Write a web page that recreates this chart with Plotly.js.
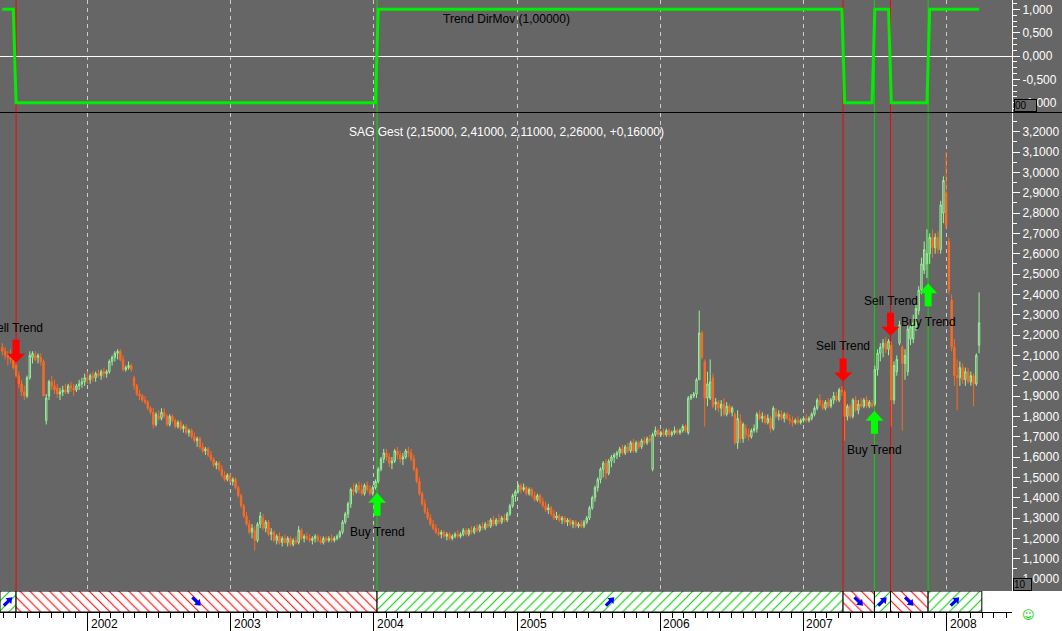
<!DOCTYPE html>
<html><head><meta charset="utf-8">
<script src="https://cdn.plot.ly/plotly-3.0.1.min.js"></script>
<style>html,body{margin:0;padding:0;background:#fff;}#chart{width:1062px;height:631px;}</style>
</head><body><div id="chart"></div>
<script>
// ---- data (weekly candles, first week 2001-05-28) ----
const firstWeek = '2001-05-28';
const openP = [
2.14,2.12,2.10,2.09,2.08,2.05,2.00,1.96,1.92,1.90,
1.99,2.09,2.10,2.09,2.09,2.07,1.78,1.90,1.97,1.95,
1.94,1.91,1.92,1.93,1.92,1.95,1.94,1.93,1.95,1.96,
1.97,1.99,1.98,2.00,1.99,2.01,2.00,2.02,2.01,2.02,
2.07,2.09,2.11,2.12,2.08,2.03,2.04,2.05,1.99,1.95,
1.91,1.90,1.88,1.87,1.84,1.82,1.76,1.80,1.79,1.82,
1.80,1.76,1.80,1.78,1.75,1.77,1.74,1.75,1.72,1.73,
1.70,1.68,1.69,1.65,1.63,1.64,1.61,1.59,1.56,1.57,
1.54,1.51,1.49,1.51,1.48,1.49,1.45,1.41,1.36,1.31,
1.27,1.23,1.24,1.19,1.27,1.30,1.25,1.28,1.22,1.23,
1.19,1.21,1.18,1.20,1.18,1.20,1.17,1.19,1.18,1.24,
1.20,1.21,1.20,1.19,1.20,1.21,1.19,1.18,1.20,1.19,
1.20,1.19,1.20,1.21,1.23,1.28,1.32,1.37,1.44,1.43,
1.46,1.44,1.42,1.46,1.44,1.42,1.45,1.48,1.54,1.59,
1.62,1.60,1.57,1.58,1.63,1.61,1.59,1.60,1.63,1.62,
1.59,1.54,1.48,1.42,1.37,1.33,1.30,1.27,1.25,1.23,
1.22,1.23,1.21,1.22,1.20,1.21,1.22,1.21,1.22,1.24,
1.22,1.24,1.23,1.25,1.24,1.26,1.25,1.27,1.26,1.29,
1.27,1.29,1.28,1.30,1.29,1.32,1.36,1.41,1.43,1.46,
1.44,1.45,1.42,1.44,1.41,1.39,1.41,1.38,1.36,1.34,
1.35,1.32,1.30,1.31,1.29,1.30,1.28,1.29,1.27,1.28,
1.26,1.27,1.26,1.28,1.30,1.35,1.40,1.45,1.49,1.54,
1.57,1.52,1.58,1.60,1.61,1.62,1.64,1.62,1.65,1.63,
1.67,1.63,1.67,1.65,1.68,1.67,1.69,1.54,1.71,1.73,
1.71,1.72,1.71,1.73,1.71,1.72,1.73,1.72,1.73,1.75,
1.72,1.89,1.90,1.91,1.98,2.21,2.07,1.89,1.89,1.99,
1.86,1.87,1.84,1.86,1.81,1.85,1.82,1.81,1.67,1.78,
1.69,1.74,1.71,1.70,1.73,1.74,1.81,1.79,1.80,1.77,
1.79,1.74,1.82,1.80,1.81,1.79,1.81,1.79,1.78,1.77,
1.78,1.77,1.78,1.79,1.78,1.79,1.81,1.84,1.88,1.86,
1.84,1.87,1.85,1.88,1.90,1.88,1.93,1.92,1.80,1.85,
1.80,1.88,1.83,1.86,1.85,1.88,1.85,1.86,1.86,2.03,
2.11,2.14,2.16,2.13,2.15,1.88,2.02,2.16,2.14,2.06,
2.02,2.18,2.18,2.24,2.32,2.42,2.52,2.55,2.60,2.68,
2.63,2.68,2.62,2.80,2.90,2.66,2.37,2.14,2.00,1.99,
2.04,1.98,2.02,1.97,2.00,1.96,2.15];
const highP = [
2.16,2.14,2.12,2.13,2.10,2.07,2.02,1.98,1.95,2.00,
2.12,2.12,2.12,2.11,2.11,2.08,1.91,1.98,2.00,1.98,
1.96,1.94,1.95,1.96,1.96,1.97,1.96,1.96,1.98,1.99,
2.01,2.02,2.01,2.02,2.02,2.03,2.03,2.04,2.03,2.08,
2.10,2.12,2.13,2.13,2.10,2.05,2.07,2.06,2.00,1.96,
1.93,1.91,1.90,1.88,1.85,1.84,1.82,1.83,1.84,1.84,
1.81,1.81,1.81,1.79,1.78,1.78,1.76,1.76,1.74,1.74,
1.72,1.70,1.70,1.67,1.65,1.65,1.63,1.60,1.58,1.58,
1.56,1.53,1.52,1.52,1.50,1.50,1.46,1.42,1.37,1.33,
1.29,1.27,1.26,1.28,1.33,1.32,1.29,1.29,1.25,1.24,
1.22,1.23,1.21,1.22,1.21,1.21,1.20,1.21,1.26,1.25,
1.22,1.23,1.22,1.21,1.22,1.22,1.21,1.21,1.21,1.21,
1.22,1.21,1.22,1.24,1.29,1.33,1.38,1.45,1.47,1.47,
1.48,1.47,1.47,1.48,1.46,1.46,1.49,1.55,1.60,1.64,
1.64,1.62,1.60,1.64,1.65,1.63,1.62,1.64,1.65,1.64,
1.61,1.55,1.50,1.43,1.39,1.35,1.32,1.29,1.27,1.25,
1.24,1.24,1.23,1.23,1.22,1.23,1.24,1.23,1.25,1.25,
1.25,1.26,1.26,1.27,1.27,1.28,1.28,1.29,1.30,1.31,
1.30,1.32,1.31,1.32,1.33,1.37,1.42,1.44,1.47,1.47,
1.47,1.46,1.45,1.45,1.43,1.42,1.42,1.40,1.38,1.37,
1.36,1.34,1.33,1.32,1.31,1.31,1.30,1.30,1.29,1.29,
1.28,1.29,1.29,1.31,1.36,1.41,1.46,1.50,1.55,1.58,
1.59,1.59,1.61,1.62,1.63,1.65,1.66,1.66,1.67,1.68,
1.69,1.68,1.68,1.69,1.70,1.70,1.71,1.72,1.75,1.74,
1.73,1.74,1.74,1.74,1.73,1.75,1.74,1.74,1.76,1.76,
1.90,1.91,1.92,1.99,2.32,2.22,2.08,2.02,2.08,2.01,
1.89,1.88,1.88,1.89,1.87,1.86,1.85,1.82,1.83,1.81,
1.77,1.76,1.74,1.74,1.76,1.82,1.83,1.82,1.81,1.81,
1.80,1.85,1.84,1.83,1.83,1.82,1.82,1.81,1.80,1.79,
1.80,1.79,1.80,1.81,1.80,1.82,1.85,1.89,1.91,1.88,
1.88,1.89,1.89,1.92,1.92,1.94,1.95,1.93,1.86,1.86,
1.89,1.90,1.88,1.89,1.89,1.90,1.88,1.88,2.05,2.13,
2.16,2.18,2.19,2.18,2.17,2.07,2.10,2.27,2.15,2.13,
2.25,2.26,2.30,2.35,2.44,2.58,2.66,2.72,2.70,2.72,
2.70,2.71,2.86,2.98,3.10,2.68,2.40,2.18,2.08,2.07,
2.06,2.04,2.04,2.02,2.01,2.11,2.41];
const lowP = [
2.10,2.08,2.05,2.06,2.03,1.99,1.94,1.90,1.88,1.89,
1.98,2.06,2.07,2.06,2.05,1.90,1.76,1.88,1.93,1.91,
1.89,1.88,1.90,1.91,1.91,1.92,1.90,1.92,1.93,1.94,
1.95,1.96,1.96,1.97,1.97,1.99,1.98,1.99,1.99,2.01,
2.05,2.07,2.08,2.07,2.02,2.02,2.03,2.02,1.93,1.90,
1.88,1.87,1.86,1.83,1.81,1.74,1.75,1.78,1.78,1.79,
1.75,1.75,1.77,1.74,1.74,1.73,1.72,1.71,1.70,1.69,
1.67,1.65,1.64,1.62,1.61,1.60,1.58,1.55,1.54,1.53,
1.50,1.48,1.48,1.47,1.46,1.44,1.40,1.35,1.30,1.26,
1.22,1.20,1.14,1.18,1.25,1.24,1.23,1.21,1.19,1.18,
1.17,1.17,1.16,1.17,1.16,1.16,1.16,1.17,1.17,1.19,
1.18,1.19,1.18,1.17,1.18,1.18,1.17,1.17,1.18,1.18,
1.18,1.18,1.19,1.20,1.22,1.27,1.30,1.35,1.41,1.42,
1.42,1.41,1.41,1.43,1.41,1.41,1.44,1.47,1.53,1.57,
1.58,1.55,1.54,1.57,1.59,1.57,1.56,1.59,1.60,1.58,
1.53,1.47,1.41,1.36,1.32,1.29,1.26,1.24,1.22,1.21,
1.20,1.20,1.19,1.19,1.19,1.20,1.20,1.20,1.21,1.21,
1.21,1.22,1.22,1.23,1.23,1.24,1.24,1.25,1.25,1.26,
1.26,1.27,1.27,1.28,1.28,1.31,1.35,1.38,1.42,1.42,
1.43,1.41,1.41,1.40,1.38,1.38,1.37,1.35,1.33,1.32,
1.31,1.29,1.29,1.28,1.27,1.27,1.26,1.26,1.25,1.25,
1.25,1.25,1.25,1.27,1.29,1.34,1.38,1.43,1.47,1.50,
1.49,1.51,1.55,1.57,1.59,1.60,1.61,1.61,1.62,1.62,
1.62,1.62,1.64,1.64,1.66,1.66,1.67,1.53,1.70,1.70,
1.70,1.70,1.70,1.70,1.70,1.71,1.71,1.71,1.72,1.72,
1.71,1.88,1.89,1.89,1.98,2.08,1.75,1.85,1.88,1.84,
1.83,1.82,1.80,1.80,1.80,1.81,1.80,1.66,1.64,1.67,
1.67,1.69,1.68,1.69,1.72,1.72,1.78,1.77,1.76,1.76,
1.72,1.73,1.79,1.78,1.78,1.77,1.78,1.76,1.75,1.76,
1.76,1.76,1.77,1.77,1.77,1.78,1.80,1.83,1.85,1.83,
1.83,1.84,1.84,1.86,1.87,1.87,1.90,1.68,1.78,1.79,
1.79,1.82,1.81,1.84,1.84,1.84,1.84,1.84,1.85,2.00,
2.07,2.09,2.11,2.10,1.75,1.86,2.00,2.15,1.73,1.98,
2.00,2.15,2.16,2.22,2.30,2.40,2.50,2.48,2.55,2.58,
2.60,2.60,2.60,2.75,2.72,2.40,2.12,1.95,1.83,1.95,
1.96,1.95,1.96,1.95,1.85,1.95,2.11];
const closeP = [
2.12,2.10,2.09,2.08,2.04,2.00,1.96,1.92,1.90,1.99,
2.10,2.11,2.08,2.10,2.07,1.90,1.89,1.97,1.95,1.93,
1.91,1.92,1.93,1.92,1.95,1.94,1.93,1.95,1.96,1.97,
1.99,1.98,2.00,1.99,2.01,2.00,2.02,2.01,2.02,2.07,
2.09,2.11,2.12,2.08,2.03,2.04,2.05,2.03,1.95,1.91,
1.90,1.88,1.87,1.84,1.82,1.76,1.81,1.79,1.82,1.80,
1.76,1.80,1.78,1.75,1.77,1.74,1.75,1.72,1.73,1.70,
1.68,1.69,1.65,1.63,1.64,1.61,1.59,1.56,1.57,1.54,
1.51,1.49,1.51,1.48,1.49,1.45,1.41,1.36,1.31,1.27,
1.23,1.25,1.19,1.27,1.31,1.25,1.28,1.22,1.23,1.19,
1.21,1.18,1.20,1.18,1.20,1.17,1.19,1.18,1.24,1.20,
1.21,1.20,1.19,1.20,1.21,1.19,1.18,1.20,1.19,1.20,
1.19,1.20,1.21,1.23,1.28,1.32,1.37,1.44,1.43,1.46,
1.44,1.42,1.46,1.44,1.42,1.45,1.48,1.54,1.59,1.62,
1.60,1.57,1.58,1.63,1.61,1.59,1.60,1.63,1.62,1.59,
1.54,1.48,1.42,1.37,1.33,1.30,1.27,1.25,1.23,1.22,
1.23,1.21,1.22,1.20,1.21,1.22,1.21,1.22,1.24,1.22,
1.24,1.23,1.25,1.24,1.26,1.25,1.27,1.26,1.29,1.27,
1.29,1.28,1.30,1.29,1.32,1.36,1.41,1.43,1.46,1.44,
1.45,1.42,1.44,1.41,1.39,1.41,1.38,1.36,1.34,1.35,
1.32,1.30,1.31,1.29,1.30,1.28,1.29,1.27,1.28,1.26,
1.27,1.26,1.28,1.30,1.35,1.40,1.45,1.49,1.54,1.57,
1.52,1.58,1.60,1.61,1.62,1.64,1.62,1.65,1.63,1.67,
1.63,1.67,1.65,1.68,1.67,1.69,1.68,1.71,1.73,1.71,
1.72,1.71,1.73,1.71,1.72,1.73,1.72,1.73,1.75,1.73,
1.89,1.90,1.91,1.98,2.21,2.09,1.89,1.96,1.97,1.85,
1.87,1.84,1.86,1.81,1.85,1.82,1.84,1.67,1.79,1.69,
1.76,1.71,1.70,1.73,1.74,1.81,1.79,1.80,1.77,1.79,
1.74,1.84,1.80,1.81,1.79,1.81,1.79,1.78,1.77,1.78,
1.77,1.78,1.79,1.78,1.79,1.81,1.84,1.88,1.86,1.84,
1.87,1.85,1.88,1.90,1.88,1.93,1.92,1.80,1.85,1.80,
1.88,1.83,1.86,1.85,1.88,1.85,1.87,1.85,2.03,2.11,
2.14,2.16,2.13,2.17,1.88,2.05,2.08,2.25,2.06,2.10,
2.23,2.24,2.26,2.33,2.42,2.55,2.62,2.60,2.68,2.63,
2.68,2.62,2.84,2.96,2.74,2.42,2.14,2.00,1.99,2.04,
1.98,2.02,1.97,2.00,1.96,2.10,2.26];

// trend segments (Trend DirMov: +1 up / -1 down)
const segStart = ['2001-05-22','2001-07-02','2004-01-09','2007-04-12','2007-07-01','2007-08-11','2007-11-15'];
const segEnd   = ['2001-07-02','2004-01-09','2007-04-12','2007-07-01','2007-08-11','2007-11-15','2008-03-31'];
const segDir   = [1,-1,1,-1,1,-1,1];

// signals
const sigDate  = ['2001-07-02','2004-01-09','2007-04-12','2007-07-01','2007-08-11','2007-11-15'];
const sigType  = ['Sell','Buy','Sell','Buy','Sell','Buy'];
const sigPrice = [2.064,1.424,1.972,1.828,2.197,2.455];

const yearLabels = ['2002','2003','2004','2005','2006','2007','2008'];
const dmTickVals = [-1,-0.5,0,0.5,1];
const dmTickText = ['-1,000','-0,500','0,000','0,500','1,000'];
const titleTop  = 'Trend DirMov (1,00000)';
const titleMain = 'SAG Gest (2,15000, 2,41000, 2,11000, 2,26000, +0,16000)';

// ---- build ----
const W = 1062, H = 631;
const py = p => 1 - p / H;
const px = p => p / W;
const DAY = 86400000;
const t0 = Date.parse(firstWeek);
const dates = closeP.map((_, i) => new Date(t0 + i * 7 * DAY).toISOString().slice(0, 10));
const trend = dates.map(d => { let v = segDir[0]; for (let k = 0; k < segStart.length; k++) if (d >= segStart[k]) v = segDir[k]; return v; });
const segMid = segStart.map((s, k) => (Date.parse(s) + Date.parse(segEnd[k])) / 2);
const segW = segStart.map((s, k) => Date.parse(segEnd[k]) - Date.parse(s));

const FONT = 'Liberation Sans, Arial, sans-serif';
const UP = '#98f598', DOWN = '#ff6a21';

const traces = [
  {type:'candlestick', x:dates, open:openP, high:highP, low:lowP, close:closeP, xaxis:'x', yaxis:'y',
   increasing:{line:{color:UP, width:1}, fillcolor:'rgba(0,0,0,0)'},
   decreasing:{line:{color:DOWN, width:1}, fillcolor:DOWN},
   whiskerwidth:0, hoverinfo:'skip', showlegend:false},
  {type:'scatter', mode:'lines', x:dates, y:trend, xaxis:'x', yaxis:'y2',
   line:{color:'#00ee00', width:3}, hoverinfo:'skip', showlegend:false},
  {type:'bar', x:segMid, y:segDir.map(() => 1), base:0, width:segW, xaxis:'x', yaxis:'y3',
   marker:{color:'white', line:{color:'black', width:1},
     pattern:{shape:segDir.map(d => d > 0 ? '/' : '\\'), fgcolor:segDir.map(d => d > 0 ? '#00d000' : '#ff0000'),
              bgcolor:'white', size:7, solidity:0.15}},
   hoverinfo:'skip', showlegend:false}
];

const shapes = [
  {type:'rect', xref:'paper', yref:'paper', x0:0, x1:1, y0:0, y1:py(591), fillcolor:'white', line:{width:0}, layer:'below'},
  {type:'line', xref:'paper', yref:'paper', x0:0, x1:1, y0:py(112.5), y1:py(112.5), line:{color:'black', width:1}, layer:'above'}
];
sigDate.forEach((d, k) => {
  const sell = sigType[k] === 'Sell';
  shapes.push({type:'line', xref:'x', yref:'paper', x0:d, x1:d, y0:py(591), y1:1,
    line:{color: sell ? '#ff0000' : '#00dd00', width:1}, layer:'below'});
  shapes.push({type:'path', xref:'x', yref:'y', xsizemode:'pixel', ysizemode:'pixel', xanchor:d, yanchor:sigPrice[k],
    path: sell ? 'M0,0 L-9,9 L-3.5,9 L-3.5,23 L3.5,23 L3.5,9 L9,9 Z'
               : 'M0,0 L-9,-10 L-3.5,-10 L-3.5,-23 L3.5,-23 L3.5,-10 L9,-10 Z',
    fillcolor: sell ? '#ff0000' : '#00ff00', line:{width:0}, layer:'above'});
});
// small blue direction arrows in the trend strip (glyph geometry in pixels, rotated +/-45 deg)
const arrowGlyph = [[-6,-1.6],[0.5,-1.6],[0.5,-4.2],[6,0],[0.5,4.2],[0.5,1.6],[-6,1.6]];
segDir.forEach((d, k) => {
  const c = Math.SQRT1_2;
  const pts = arrowGlyph.map(([x, y]) => d > 0 ? [(x - y) * c, (x + y) * c] : [(x + y) * c, (y - x) * c]);
  shapes.push({type:'path', xref:'x', yref:'y3', xsizemode:'pixel', ysizemode:'pixel', xanchor:segMid[k], yanchor:0.5,
    path:'M' + pts.map(p => p[0].toFixed(2) + ',' + p[1].toFixed(2)).join(' L') + ' Z',
    fillcolor:'#0000ff', line:{width:0}, layer:'above'});
});

const annotations = [
  {xref:'paper', yref:'paper', x:px(506), y:py(10.5), text:titleTop, showarrow:false, font:{family:FONT, size:12, color:'black'}},
  {xref:'paper', yref:'paper', x:px(506), y:py(123), text:titleMain, showarrow:false, font:{family:FONT, size:12, color:'white'}},
  {xref:'paper', yref:'paper', x:px(1014), y:py(112), xanchor:'left', yanchor:'bottom', text:'00', showarrow:false,
   font:{family:FONT, size:10, color:'black'}, bgcolor:'#666666', bordercolor:'black', borderwidth:1, borderpad:0, width:21, height:11, align:'left'},
  {xref:'paper', yref:'paper', x:px(1013), y:py(591), xanchor:'left', yanchor:'bottom', text:'10', showarrow:false,
   font:{family:FONT, size:10, color:'black'}, bgcolor:'#666666', bordercolor:'black', borderwidth:1, borderpad:0, width:17, height:11, align:'left'},
  {xref:'paper', yref:'paper', x:px(1036.5), y:py(623.5), text:'\u263A', showarrow:false, font:{family:'DejaVu Sans', size:12, color:'#00cc00'}}
];
yearLabels.forEach(yl => annotations.push({xref:'x', yref:'paper', x:yl + '-01-01', y:py(624), xanchor:'left', yanchor:'middle',
  xshift:1, text:yl, showarrow:false, font:{family:FONT, size:12, color:'black'}}));
sigDate.forEach((d, k) => {
  const sell = sigType[k] === 'Sell';
  annotations.push({xref:'x', yref:'y', x:d, y:sigPrice[k], yshift: sell ? 35 : -39, text: sigType[k] + ' Trend',
    showarrow:false, font:{family:FONT, size:12, color:'black'}});
});

const layout = {
  width:W, height:H, margin:{l:0, r:0, t:0, b:0},
  paper_bgcolor:'#666666', plot_bgcolor:'#666666',
  separators:',.', showlegend:false, hovermode:false, dragmode:false,
  font:{family:FONT, size:12, color:'white'},
  xaxis:{type:'date', domain:[0, px(1012)], range:['2001-05-22', '2008-06-16'], anchor:'y3',
    rangeslider:{visible:false}, fixedrange:true,
    showgrid:true, gridcolor:'#cccccc', griddash:'4px,4px', gridwidth:1,
    tick0:'2002-01-01', dtick:'M12', ticks:'outside', ticklen:19, tickwidth:1, tickcolor:'black',
    showticklabels:false, showline:true, linecolor:'black', linewidth:1, zeroline:false,
    minor:{tick0:'2002-01-01', dtick:'M1', ticks:'outside', ticklen:5, tickwidth:1, tickcolor:'black', showgrid:false}},
  yaxis:{domain:[py(591), py(113)], anchor:'x', side:'right', range:[0.941, 3.292], fixedrange:true,
    tick0:0, dtick:0.1, tickformat:'.4f', ticks:'outside', ticklen:7, tickwidth:1, tickcolor:'white',
    showline:true, linecolor:'white', linewidth:1, showgrid:false, zeroline:false,
    tickfont:{family:FONT, size:12, color:'white'},
    minor:{tick0:0, dtick:0.05, ticks:'outside', ticklen:4, tickwidth:1, tickcolor:'white', showgrid:false}},
  yaxis2:{domain:[py(112), 1], anchor:'x', side:'right', range:[-1.2, 1.2], fixedrange:true,
    tickvals:dmTickVals, ticktext:dmTickText, ticks:'outside', ticklen:7, tickwidth:1, tickcolor:'white',
    showline:true, linecolor:'white', linewidth:1, showgrid:false,
    zeroline:true, zerolinecolor:'white', zerolinewidth:1,
    tickfont:{family:FONT, size:12, color:'white'},
    minor:{tick0:0, dtick:0.125, ticks:'outside', ticklen:4, tickwidth:1, tickcolor:'white', showgrid:false}},
  yaxis3:{domain:[py(612), py(591)], anchor:'x', range:[0, 1], visible:false, fixedrange:true},
  shapes:shapes, annotations:annotations
};

Plotly.newPlot('chart', traces, layout, {displayModeBar:false, staticPlot:true});
</script>
</body></html>
